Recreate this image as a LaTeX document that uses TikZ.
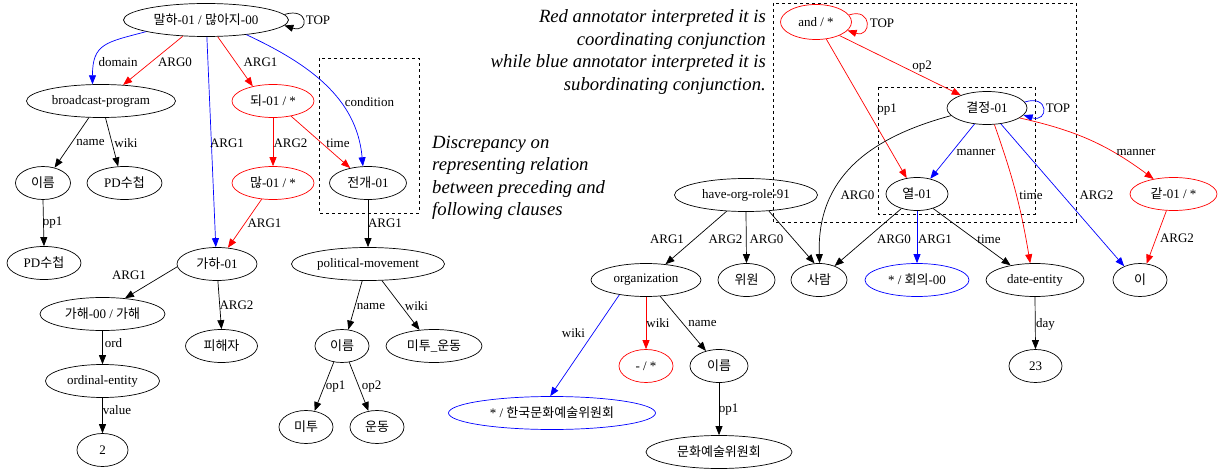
\documentclass[tikz,border=0pt]{standalone}
\usepackage{fontspec}
\setmainfont{Liberation Serif}
\newfontfamily\krf{Noto Sans CJK KR}
\newcommand{\kr}[1]{{\krf #1}}
\usetikzlibrary{shapes.geometric,arrows.meta}
\tikzset{
  ell/.style={draw, ellipse, inner sep=0pt, minimum height=33pt, line width=0.7pt, font=\fontsize{13}{15}\selectfont},
  rell/.style={ell, draw=red},
  bell/.style={ell, draw=blue},
  lbl/.style={font=\fontsize{13}{15}\selectfont, inner sep=0pt},
  arr/.style={line width=0.7pt, -{Triangle[length=9pt,width=7pt]}},
  dbox/.style={draw, dashed, line width=0.7pt},
  note/.style={font=\fontsize{18.7}{22.4}\selectfont\itshape, inner sep=0pt}
}
\begin{document}
\begin{tikzpicture}[x=1pt,y=1pt]
\useasboundingbox (0,0) rectangle (1218,472);
% ---------- left graph nodes ----------
\node[ell, minimum width=165pt] (malha) at (206,452) {\kr{말하}-01 / \kr{많아지}-00};
\node[ell, minimum width=149pt] (bp) at (101,371) {broadcast-program};
\node[rell, minimum width=82pt] (doe) at (273,371) {\kr{되}-01 / *};
\node[ell, minimum width=55pt] (ireumA) at (43,289) {\kr{이름}};
\node[ell, minimum width=75pt] (pdA) at (124.5,289) {PD\kr{수첩}};
\node[ell, minimum width=74pt] (pdB) at (44,209) {PD\kr{수첩}};
\node[rell, minimum width=82pt] (manh) at (273,289) {\kr{많}-01 / *};
\node[ell, minimum width=77pt] (jeongae) at (368,289) {\kr{전개}-01};
\node[ell, minimum width=80pt] (gaha) at (217,208) {\kr{가하}-01};
\node[ell, minimum width=153pt] (pm) at (368,208) {political-movement};
\node[ell, minimum width=125pt] (gahae) at (102.5,158) {\kr{가해}-00 / \kr{가해}};
\node[ell, minimum width=114pt] (ordn) at (102.5,91) {ordinal-entity};
\node[ell, minimum width=51pt] (two) at (102.5,22) {2};
\node[ell, minimum width=72pt] (pihae) at (221.5,126) {\kr{피해자}};
\node[ell, minimum width=54pt] (ireumB) at (342,126) {\kr{이름}};
\node[ell, minimum width=96pt] (metoo) at (434,126) {\kr{미투}\_\kr{운동}};
\node[ell, minimum width=54pt] (mitu) at (306,45) {\kr{미투}};
\node[ell, minimum width=54pt] (undong) at (377,45) {\kr{운동}};
% ---------- right graph nodes ----------
\node[rell, minimum width=71pt, minimum height=35pt] (andn) at (816,450) {and / *};
\node[ell, minimum width=80pt] (gyeol) at (987,364) {\kr{결정}-01};
\node[ell, minimum width=62pt] (yeol) at (917,278) {\kr{열}-01};
\node[rell, minimum width=87pt] (gat) at (1173.5,278) {\kr{같}-01 / *};
\node[ell, minimum width=143pt] (hor) at (746,277) {have-org-role-91};
\node[ell, minimum width=110pt] (org) at (646,192) {organization};
\node[ell, minimum width=57pt] (wiwon) at (746.5,192) {\kr{위원}};
\node[ell, minimum width=56pt] (saram) at (819,192) {\kr{사람}};
\node[bell, minimum width=104pt] (hoeui) at (917,192) {* / \kr{회의}-00};
\node[ell, minimum width=98pt] (date) at (1035,192) {date-entity};
\node[ell, minimum width=54pt] (ii) at (1140,192) {\kr{이}};
\node[ell, minimum width=53pt] (n23) at (1035.5,106) {23};
\node[bell, minimum width=207pt] (hanguk) at (552,59) {* / \kr{한국문화예술위원회}};
\node[rell, minimum width=54pt] (dashn) at (646,106) {- / *};
\node[ell, minimum width=58pt] (ireumC) at (719,106) {\kr{이름}};
\node[ell, minimum width=146pt] (munhwa) at (719,20) {\kr{문화예술위원회}};
% ---------- dashed boxes ----------
\draw[dbox] (319,414) rectangle (419,259);
\draw[dbox] (773,469) rectangle (1076,250);
\draw[dbox] (878,385) rectangle (1035,258);
% ---------- annotations ----------
\node[note, align=right, anchor=east] (noteR) at (766,420) {Red annotator interpreted it is\\coordinating conjunction\\while blue annotator interpreted it is\\subordinating conjunction.};
\node[note, align=left, anchor=west] (noteL) at (432,294) {Discrepancy on\\representing relation\\between preceding and\\following clauses};
% ---------- left edges ----------
\draw[arr] (malha.4) .. controls +(25,8) and +(25,-8) .. (malha.-4);
\node[lbl] (tTopA) at (318,452) {TOP};
\draw[arr, blue] (malha.191) to[out=195,in=90,looseness=1.4] (bp.117);
\node[lbl] (lDomain) at (118,410) {domain};
\draw[arr, red] (malha.215) -- (bp.36);
\node[lbl] (lArg0a) at (175,410) {ARG0};
\draw[arr, blue] (malha.-87) -- (gaha.94);
\node[lbl] (lArg1b) at (227,329) {ARG1};
\draw[arr, red] (malha.-55) -- (doe.144);
\node[lbl] (lArg1a) at (260.5,410) {ARG1};
\draw[arr, blue] (malha.-20) to[out=-25,in=95] (jeongae.107);
\node[lbl] (lCond) at (369.5,370) {condition};
\draw[arr, red] (doe.south) -- (manh.north);
\node[lbl] (lArg2a) at (290.5,329) {ARG2};
\draw[arr, red] (doe.-40) -- (jeongae.140);
\node[lbl] (lTimeA) at (338,329) {time};
\draw[arr] (bp.-126) -- (ireumA.53);
\node[lbl] (lNameA) at (90.5,329) {name};
\draw[arr] (bp.-75) -- (pdA.111);
\node[lbl] (lWikiA) at (126,329) {wiki};
\draw[arr] (ireumA.south) -- (pdB.north);
\node[lbl] (lOp1a) at (52.5,249) {op1};
\draw[arr, red] (manh.-125) -- (gaha.56);
\node[lbl] (lArg1c) at (264.5,249) {ARG1};
\draw[arr] (jeongae.south) -- (pm.north);
\node[lbl] (lArg1d) at (385,249) {ARG1};
\draw[arr] (gaha.184) -- (gahae.35);
\node[lbl] (lArg1e) at (129,197) {ARG1};
\draw[arr] (gaha.-87) -- (pihae.north);
\node[lbl] (lArg2b) at (236.5,167) {ARG2};
\draw[arr] (gahae.south) -- (ordn.north);
\node[lbl] (lOrd) at (113.5,129) {ord};
\draw[arr] (ordn.south) -- (two.north);
\node[lbl] (lValue) at (117,62) {value};
\draw[arr] (pm.-109) -- (ireumB.69);
\node[lbl] (lNameB) at (371,166) {name};
\draw[arr] (pm.-50) -- (metoo.132);
\node[lbl] (lWikiB) at (416.5,166) {wiki};
\draw[arr] (ireumB.-117) -- (mitu.62);
\node[lbl] (lOp1b) at (335.5,85) {op1};
\draw[arr] (ireumB.-66) -- (undong.118);
\node[lbl] (lOp2) at (371.5,85) {op2};
% ---------- right edges ----------
\draw[arr, red] (andn.12) .. controls +(24,8) and +(24,-8) .. (andn.-15);
\node[lbl] (tTopB) at (882,449) {TOP};
\draw[arr, red] (andn.-30) -- (gyeol.154);
\node[lbl] (lOp2r) at (922,405) {op2};
\draw[arr, red] (andn.-59) -- (yeol.123);
\node[lbl] (lOp1r) at (887,362) {op1};
\draw[arr, blue] (gyeol.9) .. controls +(25,8) and +(25,-8) .. (gyeol.-11);
\node[lbl] (tTopC) at (1058,364) {TOP};
\draw[arr, blue] (gyeol.-128) -- (yeol.49);
\node[lbl] (lMannerB) at (976,319) {manner};
\draw[arr] (gyeol.192) to[out=195,in=92,looseness=1.1] (saram.88);
\node[lbl] (lArg0r) at (857.5,277) {ARG0};
\draw[arr, red] (gyeol.-66) to[bend left=5] (date.106);
\node[lbl] (lTimeR) at (1031,277) {time};
\draw[arr, blue] (gyeol.-49) -- (ii.139);
\node[lbl] (lArg2r) at (1096.5,277) {ARG2};
\draw[arr, red] (gyeol.-17) to[bend left=12] (gat.143);
\node[lbl] (lMannerR) at (1136,319) {manner};
\draw[arr, red] (gat.-113) -- (ii.68);
\node[lbl] (lArg2s) at (1177,234) {ARG2};
\draw[arr] (yeol.-137) -- (saram.42);
\node[lbl] (lArg0s) at (894,233) {ARG0};
\draw[arr, blue] (yeol.south) -- (hoeui.north);
\node[lbl] (lArg1s) at (935,233) {ARG1};
\draw[arr] (yeol.-42) -- (date.149);
\node[lbl] (lTimeS) at (989,233) {time};
\draw[arr] (hor.-140) -- (org.39);
\node[lbl] (lArg1h) at (667,233) {ARG1};
\draw[arr] (hor.south) -- (wiwon.north);
\node[lbl] (lArg2h) at (725.5,233) {ARG2};
\draw[arr] (hor.-35) -- (saram.105);
\node[lbl] (lArg0h) at (766.5,233) {ARG0};
\draw[arr, blue] (org.-151) -- (hanguk.96);
\node[lbl] (lWikiC) at (573.5,139) {wiki};
\draw[arr, red] (org.south) -- (dashn.north);
\node[lbl] (lWikiD) at (658,149) {wiki};
\draw[arr] (org.-49) -- (ireumC.131);
\node[lbl] (lNameC) at (702.5,149) {name};
\draw[arr] (ireumC.south) -- (munhwa.north);
\node[lbl] (lOp1c) at (728.5,62) {op1};
\draw[arr] (date.south) -- (n23.north);
\node[lbl] (lDay) at (1045.5,148) {day};
\end{tikzpicture}
\end{document}
